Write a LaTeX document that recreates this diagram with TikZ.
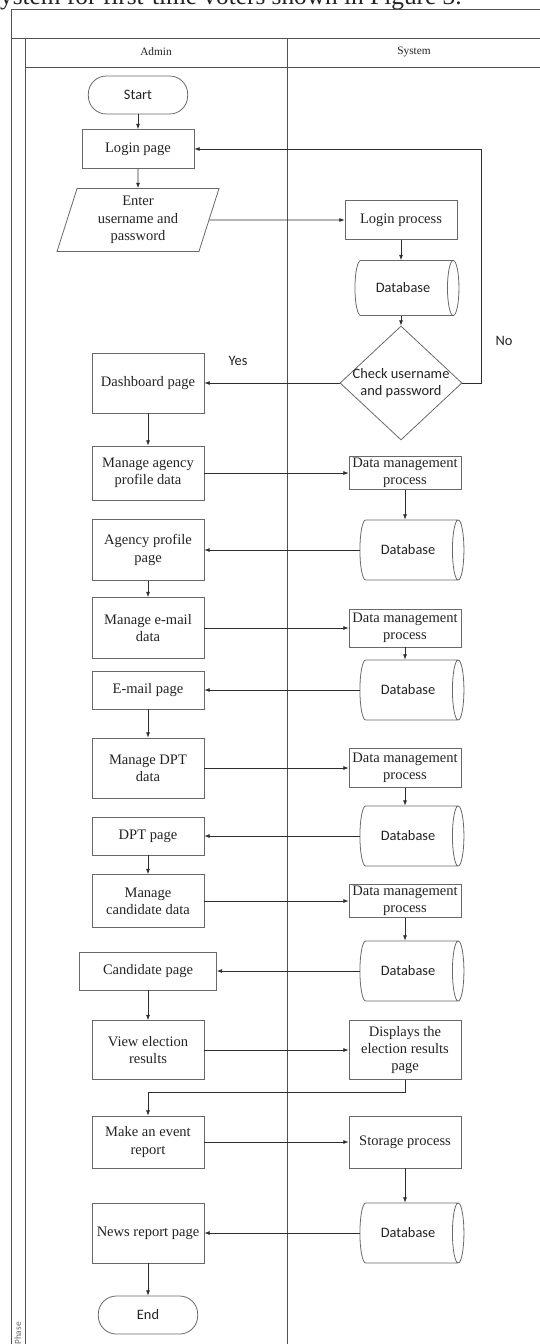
\documentclass[tikz,border=0pt]{standalone}
\usepackage{fontspec}
\setmainfont{Liberation Serif}
\newfontfamily\calibri{Carlito}
\usetikzlibrary{arrows.meta,positioning,shapes.geometric}
\definecolor{shapegray}{RGB}{105,105,105}
\definecolor{framegray}{RGB}{80,80,80}
\definecolor{arrowgray}{RGB}{45,45,45}
\definecolor{txtgray}{RGB}{35,35,35}

\begin{document}
\begin{tikzpicture}[x=0.75pt,y=-0.75pt,
  every node/.style={text=txtgray,align=center},
  serif/.style={font=\fontsize{10.9}{13}\selectfont},
  sans/.style={font=\calibri\fontsize{10.8}{13}\selectfont},
  box/.style={serif,draw=shapegray,line width=0.6pt,minimum width=84pt,inner sep=1pt},
  term/.style={sans,draw=shapegray,line width=0.6pt,rounded corners=13.5pt,minimum width=74.5pt,minimum height=28.5pt},
  io/.style={serif,draw=shapegray,line width=0.6pt,trapezium,trapezium left angle=67,trapezium right angle=113,
    trapezium stretches body,minimum width=121.5pt,minimum height=47.25pt,inner sep=0pt},
  dbase/.style={sans,draw=shapegray,line width=0.6pt,cylinder,aspect=0.9,minimum height=78pt,minimum width=45pt,inner sep=1pt},
  decide/.style={sans,draw=shapegray,line width=0.6pt,diamond,aspect=1.07,inner sep=-2.5pt,minimum width=91.5pt,minimum height=85.5pt},
  flow/.style={draw=arrowgray,line width=0.5pt,-{Latex[length=4pt,width=3pt]}},
  lane/.style={draw=framegray,line width=0.7pt}]
  \useasboundingbox (0,0) rectangle (539,1344);

  % caption line cut off by the crop
  \node[anchor=base west,inner sep=0pt,font=\fontsize{19}{20}\selectfont] (cap) at (-10,5) {system for first-time voters shown in Figure 3.};

  % pool and lanes
  \draw[lane] (11,1350) -- (11,9) -- (545,9);
  \draw[lane] (11,38) -- (545,38);
  \draw[lane] (25,1350) -- (25,38);
  \draw[lane] (25,67) -- (545,67);
  \draw[lane] (287,38) -- (287,1350);
  \node[font=\fontsize{8.5}{10}\selectfont] (admin) at (156,52) {Admin};
  \node[font=\fontsize{8.5}{10}\selectfont] (system) at (414,52) {System};
  \node[font=\calibri\fontsize{7}{8}\selectfont,text=shapegray,rotate=90,anchor=east,inner sep=0pt] (phase) at (18,1322) {Phase};

  % Admin lane
  \node[term] (start) at (138,95) {Start};
  \node[box,minimum height=29.25pt] (login) at (138,149) {Login page};
  \node[io] (enter) at (138,220) {Enter\\username and\\password};
  \node[box,minimum height=45pt] (dash) at (148,383) {Dashboard page};
  \node[box,minimum height=40.5pt] (magency) at (148,473) {Manage agency\\profile data};
  \node[box,minimum height=45.75pt] (pagency) at (148,550) {Agency profile\\page};
  \node[box,minimum height=45.75pt] (mmail) at (148,628) {Manage e-mail\\data};
  \node[box,minimum height=28.5pt] (pmail) at (148,690) {E-mail page};
  \node[box,minimum height=45pt] (mdpt) at (148,768) {Manage DPT\\data};
  \node[box,minimum height=28.5pt] (pdpt) at (148,836) {DPT page};
  \node[box,minimum height=39.75pt] (mcand) at (148,901) {Manage\\candidate data};
  \node[box,minimum height=28.5pt,minimum width=102.75pt] (pcand) at (148,971) {Candidate page};
  \node[box,minimum height=44.25pt] (view) at (148,1050) {View election\\results};
  \node[box,minimum height=39pt] (event) at (148,1142) {Make an event\\report};
  \node[box,minimum height=45pt] (news) at (148,1233) {News report page};
  \node[term] (finish) at (148,1315) {End};

  % System lane
  \node[box,minimum height=29.25pt] (lproc) at (401,220) {Login process};
  \node[dbase,minimum width=41.25pt] (db1) at (403,288) {Database};
  \node[decide] (check) at (401,383) {Check username\\and password};
  \node[box,minimum height=24.75pt] (dm1) at (405,473) {Data management\\process};
  \node[dbase] (db2) at (408,550) {Database};
  \node[box,minimum height=28.5pt] (dm2) at (405,628) {Data management\\process};
  \node[dbase] (db3) at (408,690) {Database};
  \node[box,minimum height=29.25pt] (dm3) at (405,768) {Data management\\process};
  \node[dbase] (db4) at (408,836) {Database};
  \node[box,minimum height=24.75pt] (dm4) at (405,901) {Data management\\process};
  \node[dbase] (db5) at (408,971) {Database};
  \node[box,minimum height=44.25pt] (disp) at (405,1050) {Displays the\\election results\\page};
  \node[box,minimum height=39pt] (store) at (405,1142) {Storage process};
  \node[dbase] (db6) at (408,1233) {Database};

  \node[sans] (yes) at (238,361) {Yes};
  \node[sans] (no) at (504,341) {No};

  % connectors
  \draw[flow] (start) -- (login);
  \draw[flow] (login) -- (enter);
  \draw[flow] (enter.east) -- (lproc.west);
  \draw[flow] (lproc.south) -- (lproc.south |- db1.north);
  \draw[flow] (db1.south -| check.north) -- (check.north);
  \draw[flow] (check.west) -- (dash.east);
  \draw[flow] (check.east) -- ++(19,0) |- (login.east);
  \draw[flow] (dash) -- (magency);
  \draw[flow] (magency.east) -- (dm1.west);
  \draw[flow] (dm1.south) -- (dm1.south |- db2.north);
  \draw[flow] (db2.west) -- (pagency.east);
  \draw[flow] (pagency) -- (mmail);
  \draw[flow] (mmail.east) -- (dm2.west);
  \draw[flow] (dm2.south) -- (dm2.south |- db3.north);
  \draw[flow] (db3.west) -- (pmail.east);
  \draw[flow] (pmail) -- (mdpt);
  \draw[flow] (mdpt.east) -- (dm3.west);
  \draw[flow] (dm3.south) -- (dm3.south |- db4.north);
  \draw[flow] (db4.west) -- (pdpt.east);
  \draw[flow] (pdpt) -- (mcand);
  \draw[flow] (mcand.east) -- (dm4.west);
  \draw[flow] (dm4.south) -- (dm4.south |- db5.north);
  \draw[flow] (db5.west) -- (pcand.east);
  \draw[flow] (pcand) -- (view);
  \draw[flow] (view.east) -- (disp.west);
  \draw[flow] (disp.south) -- ++(0,12) -| (event.north);
  \draw[flow] (event.east) -- (store.west);
  \draw[flow] (store.south) -- (store.south |- db6.north);
  \draw[flow] (db6.west) -- (news.east);
  \draw[flow] (news) -- (finish);
\end{tikzpicture}
\end{document}
